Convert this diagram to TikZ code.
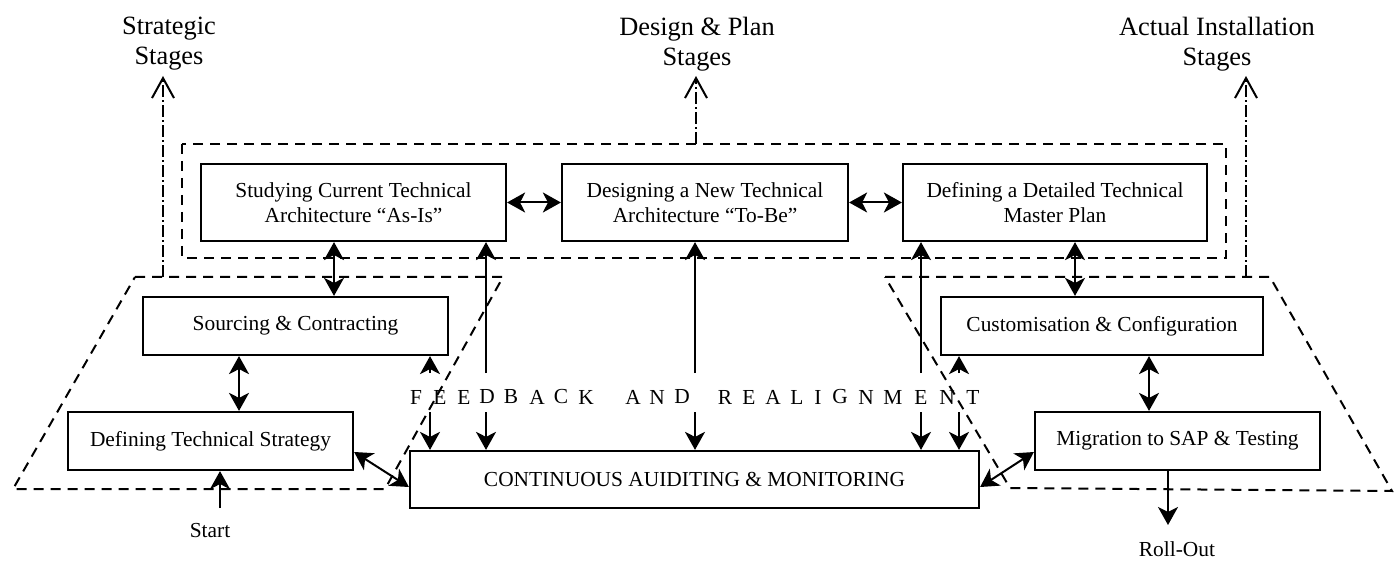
\documentclass[tikz,border=0pt]{standalone}
\usepackage{fontspec}
\setmainfont{Liberation Serif}
\usetikzlibrary{arrows.meta}

\begin{document}
\begin{tikzpicture}[x=0.5pt,y=-0.5pt,
    stage/.style={draw,line width=1.1pt,align=center,inner sep=0pt,
      font=\fontsize{10.7}{12.5}\selectfont},
    note/.style={inner sep=0pt,font=\fontsize{10.7}{12.5}\selectfont},
    headline/.style={inner sep=0pt,align=center,font=\fontsize{13.2}{15}\selectfont},
    region/.style={line width=1pt,dash pattern=on 5pt off 3.5pt},
    upward/.style={line width=0.9pt,dash pattern=on 6pt off 1.5pt on 1pt off 1.5pt,
      -{Straight Barb[length=10pt,width=11pt,line width=1pt]}},
    arr/.style={line width=1pt,-{Stealth[length=9pt,width=10pt,inset=2.5pt]}},
    dbl/.style={line width=1pt,
      {Stealth[length=9pt,width=10pt,inset=2.5pt]}-{Stealth[length=9pt,width=10pt,inset=2.5pt]}}]
      \useasboundingbox (0,0) rectangle (1398,561);
      \draw
        (169,44) node[headline] (t1) {Strategic\\Stages}
        (697,44) node[headline] (t2) {Design \& Plan\\Stages}
        (1217,44) node[headline] (t3) {Actual Installation\\Stages}
        (353.5,202.5) node[stage,minimum width=152.5pt,minimum height=38.5pt] (stud)
          {Studying Current Technical\\Architecture “As-Is”}
        (705,202.5) node[stage,minimum width=143pt,minimum height=38.5pt] (desg)
          {Designing a New Technical\\Architecture “To-Be”}
        (1055,202.5) node[stage,minimum width=152pt,minimum height=38.5pt] (plan)
          {Defining a Detailed Technical\\Master Plan}
        (295.5,326) node[stage,minimum width=152.5pt,minimum height=29pt] (srcg)
          {Sourcing \& Contracting}
        (210.5,441) node[stage,minimum width=142.5pt,minimum height=29pt] (strat)
          {Defining Technical Strategy}
        (694.5,479.5) node[stage,minimum width=284.5pt,minimum height=28.5pt] (cont)
          {CONTINUOUS AUIDITING \& MONITORING}
        (1102,326) node[stage,minimum width=161pt,minimum height=29pt] (cust)
          {Customisation \& Configuration}
        (1177.5,441) node[stage,minimum width=142.5pt,minimum height=29pt] (migr)
          {Migration to SAP \& Testing}
        (210,531) node[note] (start) {Start}
        (1177,549) node[note] (out) {Roll-Out};
      \foreach \l/\x [count=\i] in {F/416,E/440,E/464,D/487,B/511,A/537,C/561,K/586,
          A/633,N/657,D/682,R/725,E/749,A/773,L/797,I/818,G/840,N/866,M/893,E/921,N/947,T/973}
        \node[note] (fb\i) at (\x,397) {\l};
      \coordinate (s1) at (163,277);
      \coordinate (e1) at (163,76);
      \coordinate (s2) at (696,144);
      \coordinate (e2) at (696,76);
      \coordinate (s3) at (1246,277);
      \coordinate (e3) at (1246,76);
      \coordinate (startpt) at (220,508);
      \coordinate (endpt) at (1168,525);
      \begin{scope}[region]
        \draw (182,144) rectangle (1226,258);
        \draw (135,277) -- (503,277) -- (385,489) -- (13,489) -- cycle;
        \draw (885,277) -- (1270,277) -- (1392,491) -- (1010,488) -- cycle;
      \end{scope}
      \begin{scope}[upward]
        \draw (s1) to (e1);
        \draw (s2) to (e2);
        \draw (s3) to (e3);
      \end{scope}
      \begin{scope}[dbl]
        \draw (stud.east) to (desg.west);
        \draw (desg.east) to (plan.west);
        \draw (stud.south -| 334,0) to (srcg.north -| 334,0);
        \draw (plan.south -| 1075,0) to (cust.north -| 1075,0);
        \draw (srcg.south -| 239,0) to (strat.north -| 239,0);
        \draw (cust.south -| 1149,0) to (migr.north -| 1149,0);
        \draw ([yshift=-5.5pt]strat.east) to ([yshift=-3.75pt]cont.west);
        \draw ([yshift=-5.5pt]migr.west) to ([yshift=-3.75pt]cont.east);
      \end{scope}
      \begin{scope}[arr]
        \foreach \x/\b in {430/srcg,486/stud,695/desg,921/plan,959/cust}{
          \coordinate (up\x) at (\x,373);
          \coordinate (dn\x) at (\x,412);
          \draw (up\x) to (\b.south -| up\x);
          \draw (dn\x) to (cont.north -| dn\x);
        }
        \draw (startpt) to (strat.south -| startpt);
        \draw (migr.south -| endpt) to (endpt);
      \end{scope}
    \end{tikzpicture}
\end{document}
